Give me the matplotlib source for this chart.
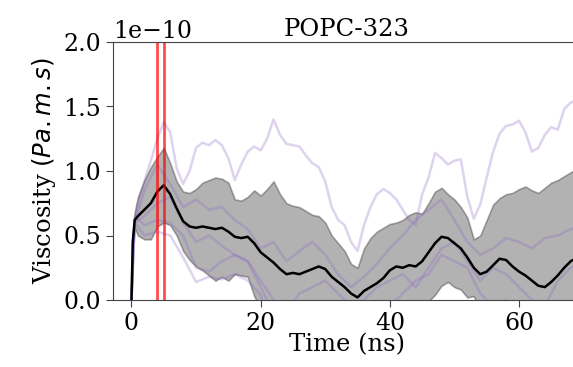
import numpy as np
import matplotlib
matplotlib.use("Agg")
import matplotlib.pyplot as plt

plt.rcParams['font.family'] = 'serif'
plt.rcParams['font.serif'] = ['DejaVu Serif']

# mean viscosity and std over replicas (units of 1e-10 Pa.m.s)
t_mean = [0, 0.2, 0.5, 1, 2, 3, 4, 5, 6, 7, 8, 9, 10, 11, 12, 13, 14, 15, 16, 17,
          18, 19, 20, 21, 22, 23, 24, 25, 26, 27, 28, 29, 30, 31, 32, 33, 34, 35,
          36, 37, 38, 39, 40, 41, 42, 43, 44, 45, 46, 47, 48, 49, 50, 51, 52, 53,
          54, 55, 56, 57, 58, 59, 60, 61, 62, 63, 64, 65, 66, 67, 68, 69]
visc_mean = [0.0, 0.45, 0.62, 0.65, 0.70, 0.75, 0.84, 0.89, 0.82, 0.71, 0.61, 0.57,
             0.56, 0.57, 0.56, 0.55, 0.56, 0.53, 0.49, 0.48, 0.49, 0.44, 0.37, 0.33,
             0.29, 0.24, 0.20, 0.21, 0.20, 0.22, 0.24, 0.26, 0.24, 0.18, 0.14, 0.10,
             0.05, 0.02, 0.07, 0.10, 0.13, 0.17, 0.23, 0.26, 0.25, 0.27, 0.26, 0.30,
             0.37, 0.44, 0.49, 0.48, 0.44, 0.40, 0.33, 0.25, 0.20, 0.22, 0.27, 0.32,
             0.31, 0.26, 0.22, 0.19, 0.15, 0.11, 0.10, 0.14, 0.19, 0.25, 0.30, 0.33]
visc_std = [0.0, 0.02, 0.06, 0.15, 0.23, 0.28, 0.27, 0.29, 0.24, 0.21, 0.23, 0.26,
            0.30, 0.34, 0.37, 0.40, 0.38, 0.38, 0.29, 0.29, 0.31, 0.41, 0.44, 0.53,
            0.63, 0.58, 0.55, 0.52, 0.52, 0.47, 0.42, 0.39, 0.36, 0.32, 0.30, 0.28,
            0.23, 0.23, 0.33, 0.38, 0.40, 0.39, 0.36, 0.34, 0.37, 0.39, 0.42, 0.37,
            0.38, 0.40, 0.38, 0.34, 0.34, 0.32, 0.31, 0.22, 0.30, 0.40, 0.47, 0.47,
            0.51, 0.57, 0.64, 0.69, 0.70, 0.72, 0.77, 0.77, 0.74, 0.71, 0.69, 0.69]

# individual replicas
t_run_a = [0, 0.2, 0.5, 1, 2, 3, 4, 5, 6, 7, 8, 9, 10, 11, 12, 13, 14, 15, 16, 17,
           18, 19, 20, 21, 22, 23, 24, 25, 26, 27, 28, 29, 30, 31, 32, 33, 34, 35,
           36, 37, 38, 39, 40, 41, 42, 43, 44, 45, 46, 47, 48, 49, 50, 51, 52, 53,
           54, 55, 56, 57, 58, 59, 60, 61, 62, 63, 64, 65, 66, 67, 68, 69]
run_a = [0.0, 0.45, 0.62, 0.75, 0.92, 1.08, 1.25, 1.38, 1.30, 1.02, 0.90, 1.00,
         1.18, 1.22, 1.20, 1.24, 1.20, 1.10, 0.93, 1.05, 1.15, 1.19, 1.16, 1.25,
         1.40, 1.28, 1.21, 1.20, 1.19, 1.12, 1.06, 1.03, 0.92, 0.72, 0.62, 0.58,
         0.45, 0.38, 0.58, 0.72, 0.82, 0.86, 0.83, 0.78, 0.70, 0.62, 0.58, 0.82,
         0.95, 1.14, 1.10, 1.05, 1.08, 1.09, 0.80, 0.63, 0.74, 0.95, 1.15, 1.29,
         1.35, 1.36, 1.39, 1.30, 1.15, 1.18, 1.28, 1.34, 1.32, 1.48, 1.53, 1.55]
t_runs = [0, 0.5, 2, 4, 6, 8, 10, 12, 14, 16, 18, 20, 22, 24, 26, 28, 30, 32, 34,
          36, 38, 40, 42, 44, 46, 48, 50, 52, 54, 56, 58, 60, 62, 64, 66, 68, 70]
run_b = [0.0, 0.60, 0.85, 1.05, 0.90, 0.72, 0.78, 0.70, 0.72, 0.62, 0.55, 0.40,
         0.45, 0.30, 0.38, 0.45, 0.35, 0.20, 0.10, 0.18, 0.28, 0.40, 0.50, 0.62,
         0.70, 0.78, 0.62, 0.45, 0.35, 0.40, 0.48, 0.45, 0.40, 0.48, 0.50, 0.55, 0.55]
run_c = [0.0, 0.60, 0.65, 0.75, 0.80, 0.60, 0.45, 0.50, 0.42, 0.35, 0.30, 0.15,
         0.00, -0.10, 0.05, 0.10, 0.15, 0.05, -0.05, 0.00, 0.10, 0.15, 0.20, 0.10,
         0.25, 0.40, 0.45, 0.30, 0.15, 0.25, 0.20, 0.10, 0.00, -0.05, 0.15, 0.25, 0.28]
run_d = [0.0, 0.65, 0.58, 0.62, 0.60, 0.50, 0.25, 0.22, 0.30, 0.35, 0.30, 0.10,
         -0.10, -0.15, -0.25, -0.15, -0.05, -0.05, -0.10, -0.15, -0.20, -0.05, 0.05,
         0.15, 0.20, 0.35, 0.30, 0.25, 0.05, -0.05, 0.00, -0.20, -0.20, -0.40, -0.30,
         -0.20, -0.20]
run_e = [0.0, 0.60, 0.50, 0.53, 0.50, 0.33, 0.14, 0.18, 0.16, 0.20, 0.15, 0.04,
         -0.30, -0.26, -0.37, -0.26, -0.17, -0.12, -0.15, -0.26, -0.35, -0.18, -0.20,
         -0.15, -0.25, -0.18, -0.25, -0.15, -0.29, -0.40, -0.48, -0.64, -0.60, -0.81,
         -0.72, -0.63, -0.60]

equil_marks = [4, 5]

t_mean = np.array(t_mean)
visc_mean = np.array(visc_mean) * 1e-10
visc_std = np.array(visc_std) * 1e-10

fig = plt.figure(figsize=(5.73, 3.67), dpi=100)
ax = fig.add_axes([113 / 573, 67 / 367, 468 / 573, 258 / 367])

run_color = '#8a63c9'
ax.plot(t_run_a, np.array(run_a) * 1e-10, color=run_color, alpha=0.28, lw=1.8)
for run in [run_b, run_c, run_d, run_e]:
    ax.plot(t_runs, np.array(run) * 1e-10, color=run_color, alpha=0.28, lw=1.8)

ax.fill_between(t_mean, visc_mean - visc_std, visc_mean + visc_std,
                color='k', alpha=0.3, lw=1.2)
ax.plot(t_mean, visc_mean, color='k', lw=1.8)

for x in equil_marks:
    ax.axvline(x, color='red', alpha=0.7, lw=2)

ax.set_xlim(-2.86, 69.6)
ax.set_ylim(0, 2e-10)
ax.set_xticks([0, 20, 40, 60])
ax.set_yticks([0, 0.5e-10, 1e-10, 1.5e-10, 2e-10])
ax.tick_params(labelsize=17, color='#444444', length=5)
for s in ax.spines.values():
    s.set_color('#444444')
ax.yaxis.get_offset_text().set_fontsize(17)

ax.set_xlabel('Time (ns)', fontsize=17.5, labelpad=-1)
ax.set_ylabel('Viscosity $(Pa.m.s)$', fontsize=17.5)
ax.set_title('POPC-323', fontsize=17.5, pad=4)

fig.savefig('out.png', dpi=100)
